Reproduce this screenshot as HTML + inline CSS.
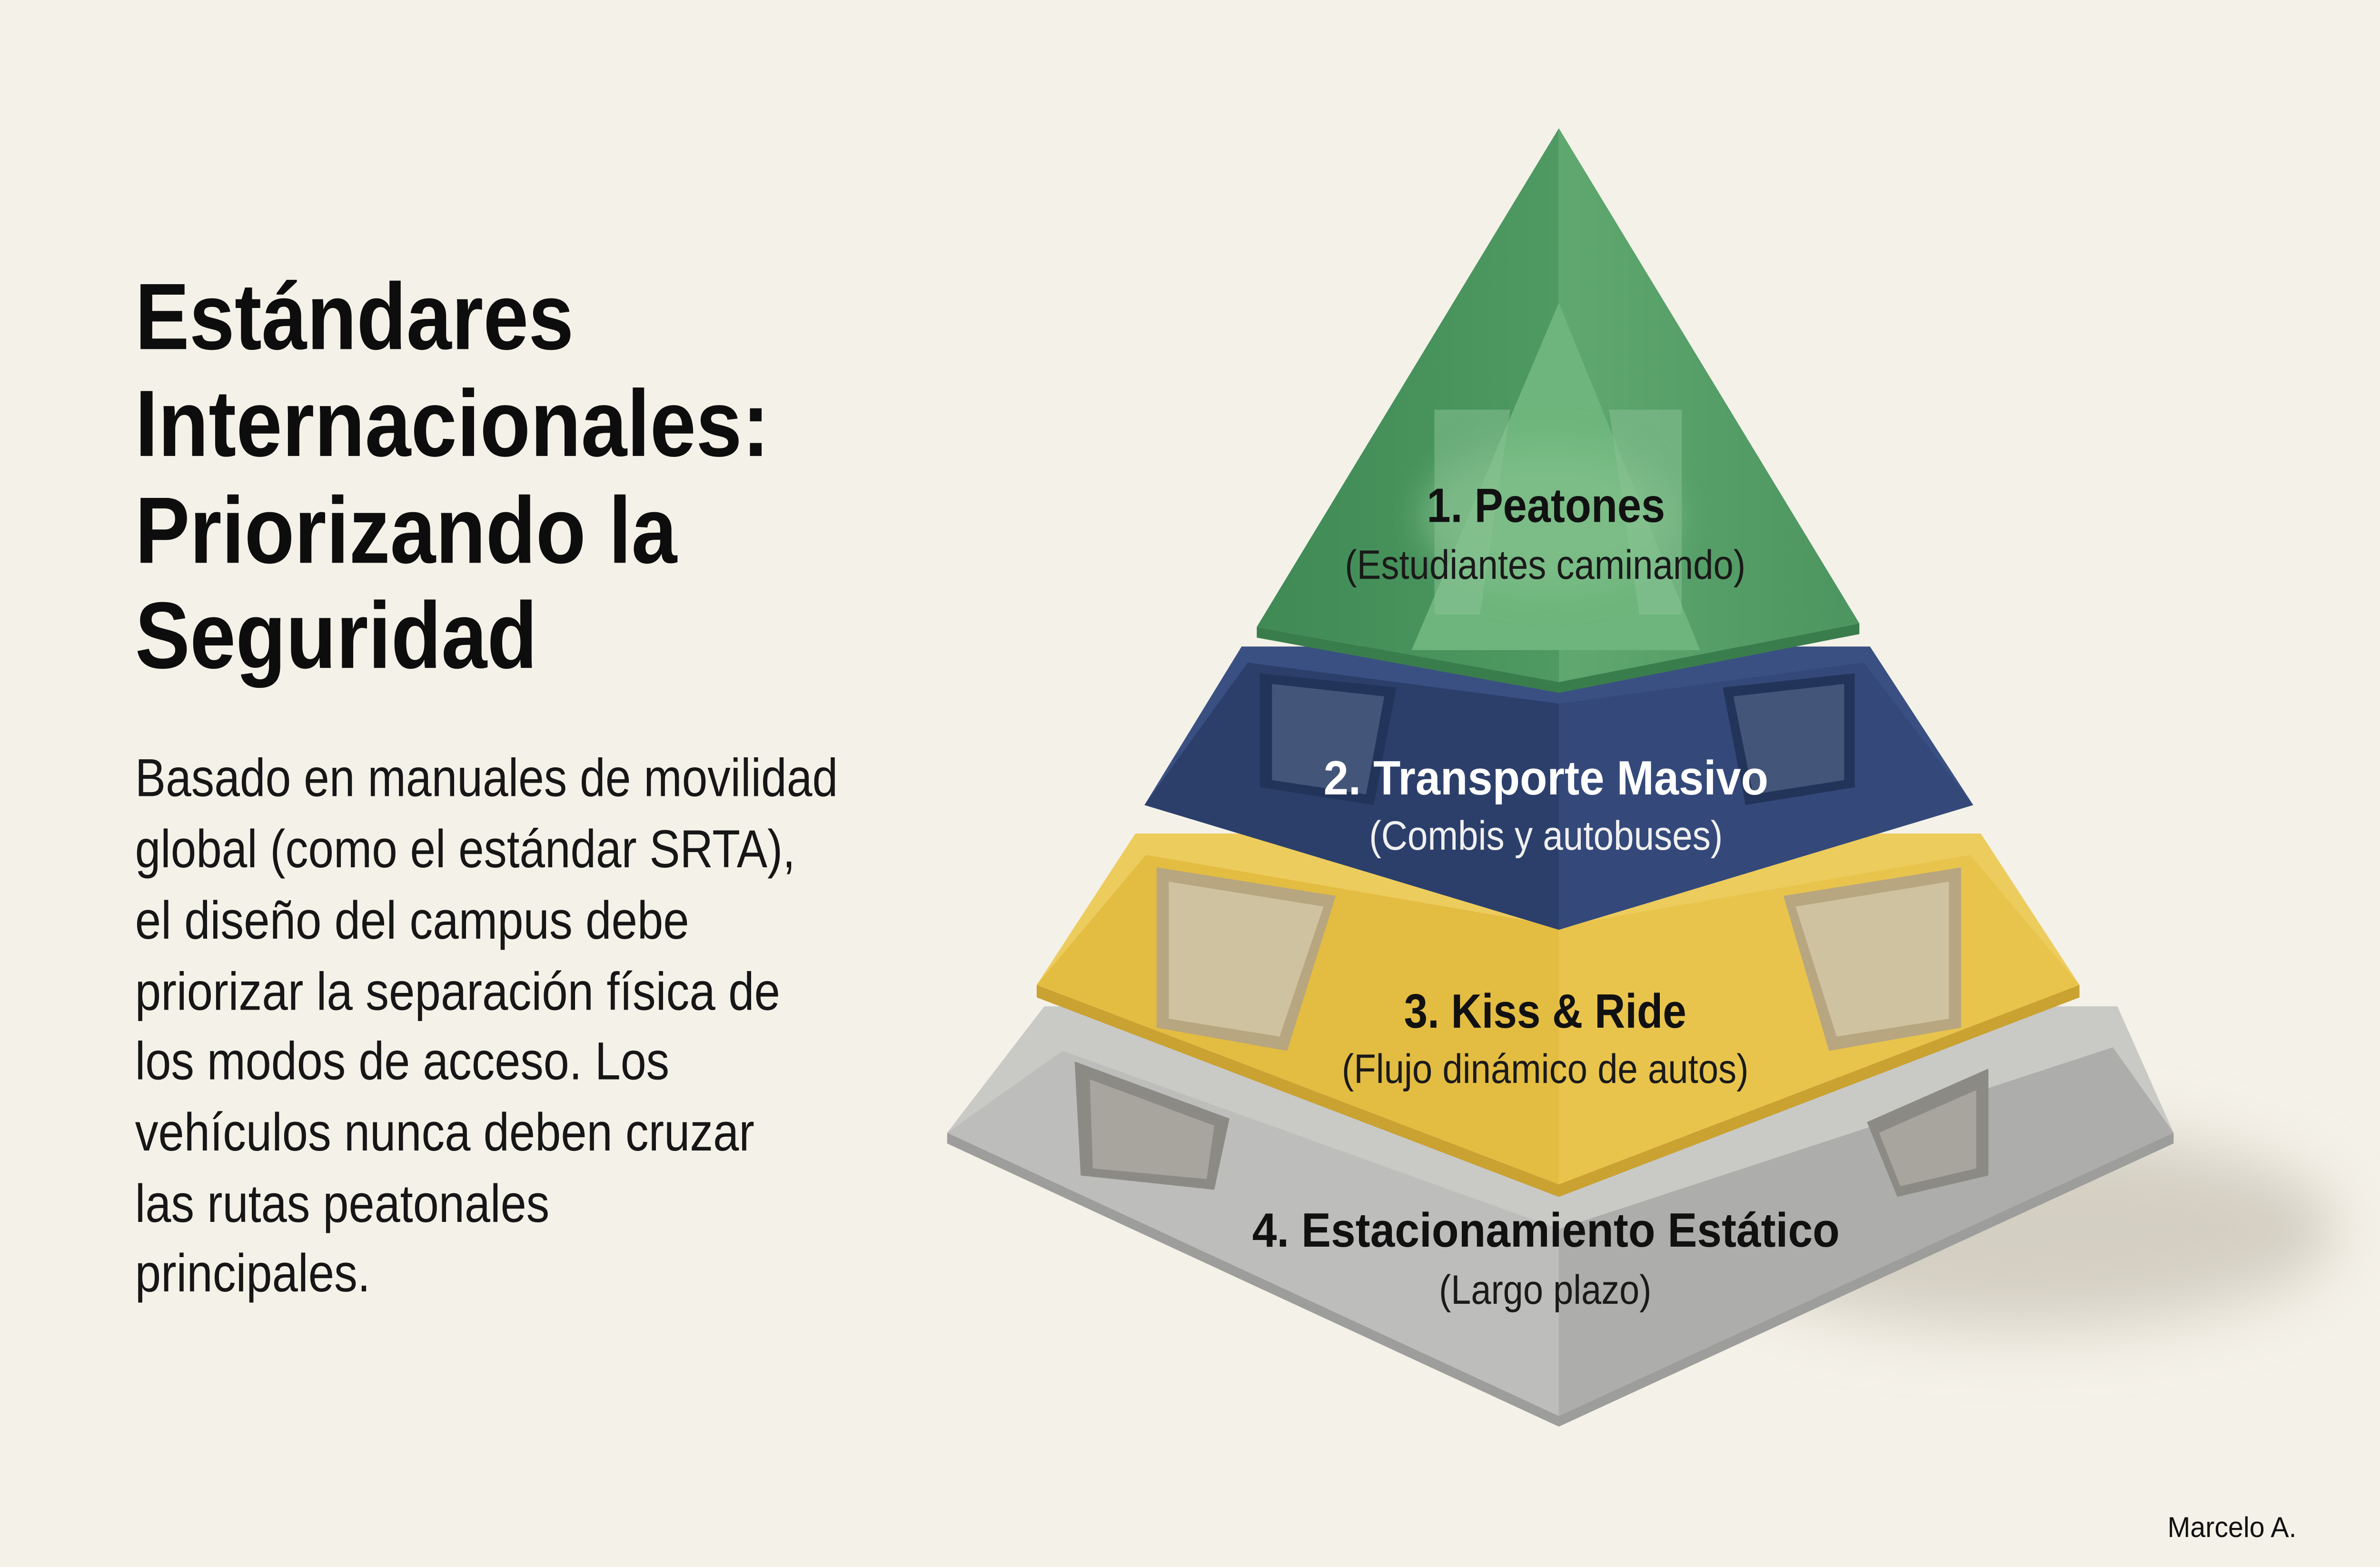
<!DOCTYPE html>
<html><head><meta charset="utf-8"><style>
html,body{margin:0;padding:0;background:#f4f1e8;width:100vw;height:100vh;overflow:hidden;}
svg{display:block;position:absolute;left:0;top:0;width:100vw;height:100vh}
</style></head><body>
<svg viewBox="0 0 1568 879.8" preserveAspectRatio="none" xmlns="http://www.w3.org/2000/svg">
<defs>
<filter id="blur" x="-50%" y="-50%" width="200%" height="200%"><feGaussianBlur stdDeviation="18"/></filter>
<filter id="blur2" x="-50%" y="-50%" width="200%" height="200%"><feGaussianBlur stdDeviation="10"/></filter>
<linearGradient id="gl" x1="0" y1="0" x2="1" y2="0"><stop offset="0" stop-color="#3f8a55"/><stop offset="1" stop-color="#4f9a62"/></linearGradient>
<linearGradient id="gr" x1="0" y1="0" x2="1" y2="0"><stop offset="0" stop-color="#5fa86f"/><stop offset="1" stop-color="#4c9560"/></linearGradient>
</defs>
<rect width="1568" height="879.8" fill="#f4f1e8"/>
<ellipse cx="1330" cy="690" rx="210" ry="55" fill="#d4cfc3" filter="url(#blur)"/>

<polygon points="688,565 1395,565 1432,636 1027,795 624,636" fill="#c9c9c6"/>
<polygon points="624,636 700,590 1027,690 1027,795" fill="#bdbdbb"/>
<polygon points="1027,690 1392,588 1432,636 1027,795" fill="#adadab"/>
<polygon points="624,636 1027,795 1432,636 1432,642 1027,801 624,642" fill="#9d9d9b"/>
<polygon points="708,596 810,628 800,668 712,660" fill="#8c8a84"/>
<polygon points="718,606 800,632 795,662 720,656" fill="#a8a59e"/>
<polygon points="1230,630 1310,600 1310,660 1250,672" fill="#8c8a84"/>
<polygon points="1238,636 1302,612 1302,656 1252,666" fill="#a8a59e"/>

<polygon points="748,468 1305,468 1370,553 1027,665 683,553" fill="#eccc5c"/>
<polygon points="683,553 755,480 1027,520 1027,665" fill="#e3bc42"/>
<polygon points="1027,520 1298,480 1370,553 1027,665" fill="#e9c44d"/>
<polygon points="683,553 1027,665 1370,553 1370,560 1027,672 683,560" fill="#c9a232"/>
<polygon points="762,487 880,503 848,590 762,577" fill="#b7a67f"/>
<polygon points="770,495 872,509 843,582 770,572" fill="#cfc2a0"/>
<polygon points="1175,503 1292,487 1292,577 1205,590" fill="#b7a67f"/>
<polygon points="1183,509 1284,495 1284,572 1210,582" fill="#cfc2a0"/>

<polygon points="818,363 1232,363 1300,452 1027,522 754,452" fill="#3a5083"/>
<polygon points="754,452 822,372 1027,395 1027,522" fill="#2c3f6b"/>
<polygon points="1027,395 1228,372 1300,452 1027,522" fill="#34497a"/>
<polygon points="830,378 920,386 905,452 830,442" fill="#23345a"/>
<polygon points="838,384 912,391 900,446 838,438" fill="#44557a"/>
<polygon points="1135,386 1222,378 1222,442 1150,452" fill="#23345a"/>
<polygon points="1142,391 1215,384 1215,438 1155,446" fill="#44557a"/>

<polygon points="828,352 1027,72 1027,383" fill="url(#gl)"/>
<polygon points="1027,72 1225,350 1027,383" fill="url(#gr)"/>
<polygon points="828,352 1027,383 1225,350 1225,356 1027,389 828,358" fill="#3a7d4c"/>
<polygon points="1027,170 930,365 1120,365" fill="#6db57c"/>
<polygon points="945,230 995,230 975,345 945,345" fill="#8cc397" opacity="0.5"/>
<polygon points="1060,230 1108,230 1108,345 1080,345" fill="#8cc397" opacity="0.5"/>
<ellipse cx="1020" cy="290" rx="85" ry="40" fill="#86c28f" opacity="0.6" filter="url(#blur2)"/>

<g font-family="'Liberation Sans', sans-serif">
<text x="940" y="293" font-size="27" font-weight="bold" fill="#111" textLength="157" lengthAdjust="spacingAndGlyphs">1. Peatones</text>
<text x="886" y="325" font-size="23" fill="#1a1a1a" textLength="264" lengthAdjust="spacingAndGlyphs">(Estudiantes caminando)</text>
<text x="872" y="446" font-size="27" font-weight="bold" fill="#fff" textLength="293" lengthAdjust="spacingAndGlyphs">2. Transporte Masivo</text>
<text x="902" y="477" font-size="23" fill="#f0f0f0" textLength="233" lengthAdjust="spacingAndGlyphs">(Combis y autobuses)</text>
<text x="925" y="577" font-size="27" font-weight="bold" fill="#111" textLength="186" lengthAdjust="spacingAndGlyphs">3. Kiss &amp; Ride</text>
<text x="884" y="608" font-size="23" fill="#1a1a1a" textLength="268" lengthAdjust="spacingAndGlyphs">(Flujo dinámico de autos)</text>
<text x="825" y="700" font-size="27" font-weight="bold" fill="#111" textLength="387" lengthAdjust="spacingAndGlyphs">4. Estacionamiento Estático</text>
<text x="948" y="732" font-size="23" fill="#1a1a1a" textLength="140" lengthAdjust="spacingAndGlyphs">(Largo plazo)</text>
</g>

<g font-family="'Liberation Sans', sans-serif" font-weight="bold" font-size="53" fill="#0d0d0d">
<text x="89" y="196" textLength="289" lengthAdjust="spacingAndGlyphs">Estándares</text>
<text x="89" y="256" textLength="418" lengthAdjust="spacingAndGlyphs">Internacionales:</text>
<text x="89" y="316" textLength="357" lengthAdjust="spacingAndGlyphs">Priorizando la</text>
<text x="89" y="375" textLength="265" lengthAdjust="spacingAndGlyphs">Seguridad</text>
</g>

<g font-family="'Liberation Sans', sans-serif" font-size="30" fill="#161616">
<text x="89" y="447" textLength="463" lengthAdjust="spacingAndGlyphs">Basado en manuales de movilidad</text>
<text x="89" y="487" textLength="435" lengthAdjust="spacingAndGlyphs">global (como el estándar SRTA),</text>
<text x="89" y="527" textLength="365" lengthAdjust="spacingAndGlyphs">el diseño del campus debe</text>
<text x="89" y="567" textLength="425" lengthAdjust="spacingAndGlyphs">priorizar la separación física de</text>
<text x="89" y="606" textLength="352" lengthAdjust="spacingAndGlyphs">los modos de acceso. Los</text>
<text x="89" y="646" textLength="408" lengthAdjust="spacingAndGlyphs">vehículos nunca deben cruzar</text>
<text x="89" y="686" textLength="273" lengthAdjust="spacingAndGlyphs">las rutas peatonales</text>
<text x="89" y="725" textLength="155" lengthAdjust="spacingAndGlyphs">principales.</text>
</g>

<text x="1428" y="863" font-family="'Liberation Sans', sans-serif" font-size="16" fill="#111" textLength="85" lengthAdjust="spacingAndGlyphs">Marcelo A.</text>
</svg>
</body></html>
